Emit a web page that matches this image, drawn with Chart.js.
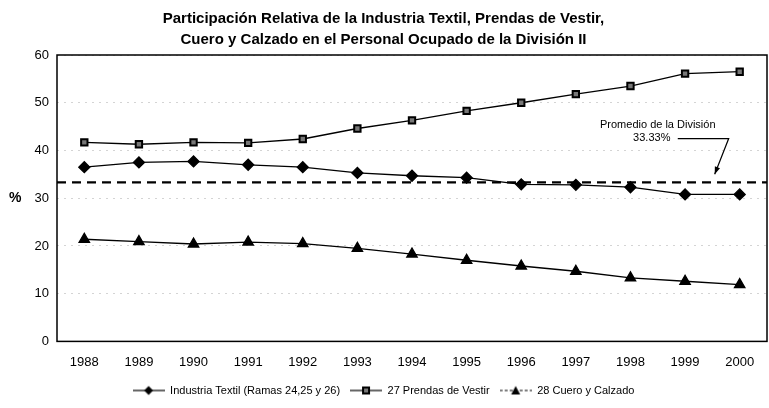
<!DOCTYPE html>
<html>
<head>
<meta charset="utf-8">
<script src="https://cdn.jsdelivr.net/npm/chart.js@4.4.1/dist/chart.umd.min.js"></script>
<style>
  html, body { margin: 0; padding: 0; background: #fff; }
  #wrap { width: 769px; height: 408px; }
</style>
</head>
<body>
<div id="wrap"><canvas id="chart"></canvas></div>
<script>
// Data
const years = ["1988", "1989", "1990", "1991", "1992", "1993", "1994", "1995", "1996", "1997", "1998", "1999", "2000"];
const textil = [36.5, 37.5, 37.7, 37.0, 36.5, 35.3, 34.7, 34.3, 32.9, 32.8, 32.3, 30.8, 30.8];
const prendas = [41.7, 41.3, 41.7, 41.6, 42.4, 44.6, 46.3, 48.3, 50.0, 51.8, 53.5, 56.1, 56.5];
const cuero = [21.4, 20.9, 20.4, 20.8, 20.5, 19.5, 18.3, 17.0, 15.8, 14.7, 13.3, 12.6, 11.9];
const promedio = 33.33;
const yTicks = [0, 10, 20, 30, 40, 50, 60];

const FONT = "'Liberation Sans', Arial, sans-serif";

// small legend icon: line with marker in the middle
function legendIcon(shape, dashed) {
    const c = document.createElement("canvas");
    c.width = 32; c.height = 12;
    const g = c.getContext("2d");
    g.strokeStyle = "#000";
    g.lineWidth = 1.2;
    if (dashed) g.setLineDash([3, 2]);
    g.beginPath(); g.moveTo(0, 6); g.lineTo(32, 6); g.stroke();
    g.setLineDash([]);
    g.fillStyle = "#000";
    if (shape === "diamond") {
        g.beginPath(); g.moveTo(16, 1.5); g.lineTo(20.5, 6); g.lineTo(16, 10.5); g.lineTo(11.5, 6); g.closePath(); g.fill();
    } else if (shape === "square") {
        g.fillRect(12, 2, 8, 8);
        g.fillStyle = "#777"; g.fillRect(14, 4, 4, 4);
    } else {
        g.beginPath(); g.moveTo(16, 1.5); g.lineTo(20.5, 10); g.lineTo(11.5, 10); g.closePath(); g.fill();
    }
    return c;
}

function yAvg(chart) { return chart.scales.y.getPixelForValue(promedio); }

// frame, % label, dashed average line and its note
const extras = {
    id: "extras",
    beforeDatasetsDraw(chart) {
        const { ctx, chartArea: a } = chart;
        ctx.save();
        ctx.strokeStyle = "#000";
        ctx.lineWidth = 1.5;
        ctx.strokeRect(a.left, a.top, a.right - a.left, a.bottom - a.top);
        // average line
        const y = yAvg(chart);
        ctx.setLineDash([9, 6]);
        ctx.lineWidth = 2.2;
        ctx.beginPath(); ctx.moveTo(a.left, y); ctx.lineTo(a.right, y); ctx.stroke();
        ctx.restore();
    },
    afterDraw(chart) {
        const { ctx, scales } = chart;
        ctx.save();
        ctx.fillStyle = "#000";
        ctx.font = "bold 14px " + FONT;
        ctx.textAlign = "left";
        ctx.textBaseline = "middle";
        ctx.fillText("%", 9, scales.y.getPixelForValue(30));

        // note
        const xNote = (scales.x.getPixelForValue(10) + scales.x.getPixelForValue(11)) / 2;
        ctx.font = "11px " + FONT;
        ctx.textAlign = "center";
        ctx.fillText("Promedio de la División", xNote, scales.y.getPixelForValue(45.4));
        ctx.fillText("33.33%", xNote - 6, scales.y.getPixelForValue(42.6));
        const yL = scales.y.getPixelForValue(42.5);
        const x2000 = scales.x.getPixelForValue(12);
        const x0 = xNote + 20, x1 = x2000 - 11;
        const xt = x2000 - 25, yt = yAvg(chart) - 8;
        ctx.strokeStyle = "#000";
        ctx.lineWidth = 1.2;
        ctx.beginPath(); ctx.moveTo(x0, yL); ctx.lineTo(x1, yL); ctx.lineTo(xt, yt); ctx.stroke();
        // arrow head
        const ang = Math.atan2(yt - yL, xt - x1);
        ctx.beginPath();
        ctx.moveTo(xt, yt);
        ctx.lineTo(xt - 8 * Math.cos(ang - 0.35), yt - 8 * Math.sin(ang - 0.35));
        ctx.lineTo(xt - 8 * Math.cos(ang + 0.35), yt - 8 * Math.sin(ang + 0.35));
        ctx.closePath(); ctx.fill();
        ctx.restore();
    }
};

new Chart(document.getElementById("chart"), {
    type: "line",
    data: {
        labels: years,
        datasets: [
            {
                label: "Industria Textil (Ramas 24,25 y 26)",
                data: textil,
                borderColor: "#000", borderWidth: 1.3,
                pointStyle: "rectRot", pointRadius: 5.5,
                pointBackgroundColor: "#000", pointBorderColor: "#000"
            },
            {
                label: "27 Prendas de Vestir",
                data: prendas,
                borderColor: "#000", borderWidth: 1.3,
                pointStyle: "rect", pointRadius: 4.5, pointBorderWidth: 2,
                pointBackgroundColor: "#777", pointBorderColor: "#000"
            },
            {
                label: "28 Cuero y Calzado",
                data: cuero,
                borderColor: "#000", borderWidth: 1.3,
                pointStyle: "triangle", pointRadius: 6,
                pointBackgroundColor: "#000", pointBorderColor: "#000"
            }
        ]
    },
    options: {
        responsive: true,
        maintainAspectRatio: false,
        animation: false,
        layout: { autoPadding: false, padding: { left: 0, right: 2, top: 0, bottom: 2 } },
        scales: {
            x: {
                offset: true,
                afterFit(scale) { scale.paddingLeft = 0; scale.paddingRight = 0; },
                grid: { display: false },
                border: { display: false },
                ticks: { color: "#000", font: { family: FONT, size: 13 }, padding: 5, maxRotation: 0 }
            },
            y: {
                min: 0, max: 60,
                afterFit(scale) { scale.width = 57; },
                afterBuildTicks(scale) { scale.ticks = yTicks.map(v => ({ value: v })); },
                grid: { color: "#d4d4d4", lineWidth: 1, drawTicks: false },
                border: { display: false, dash: [2, 5] },
                ticks: { color: "#000", font: { family: FONT, size: 13 }, padding: 8 }
            }
        },
        plugins: {
            title: {
                display: true,
                text: ["Participación Relativa de la Industria Textil, Prendas de Vestir,",
                       "Cuero y Calzado en el Personal Ocupado de la División II"],
                color: "#000",
                font: { family: FONT, size: 15, weight: "bold", lineHeight: 1.4 },
                padding: { top: 8, bottom: 5 }
            },
            legend: {
                position: "bottom",
                labels: {
                    color: "#000",
                    font: { family: FONT, size: 11 },
                    usePointStyle: true,
                    pointStyleWidth: 32,
                    boxHeight: 11,
                    padding: 10,
                    generateLabels(chart) {
                        const shapes = ["diamond", "square", "triangle"];
                        return chart.data.datasets.map((ds, i) => ({
                            text: ds.label,
                            pointStyle: legendIcon(shapes[i], i === 2),
                            fontColor: "#000",
                            strokeStyle: "#000",
                            lineWidth: 0,
                            datasetIndex: i
                        }));
                    }
                }
            },
            tooltip: { enabled: false }
        }
    },
    plugins: [extras]
});
</script>
</body>
</html>
